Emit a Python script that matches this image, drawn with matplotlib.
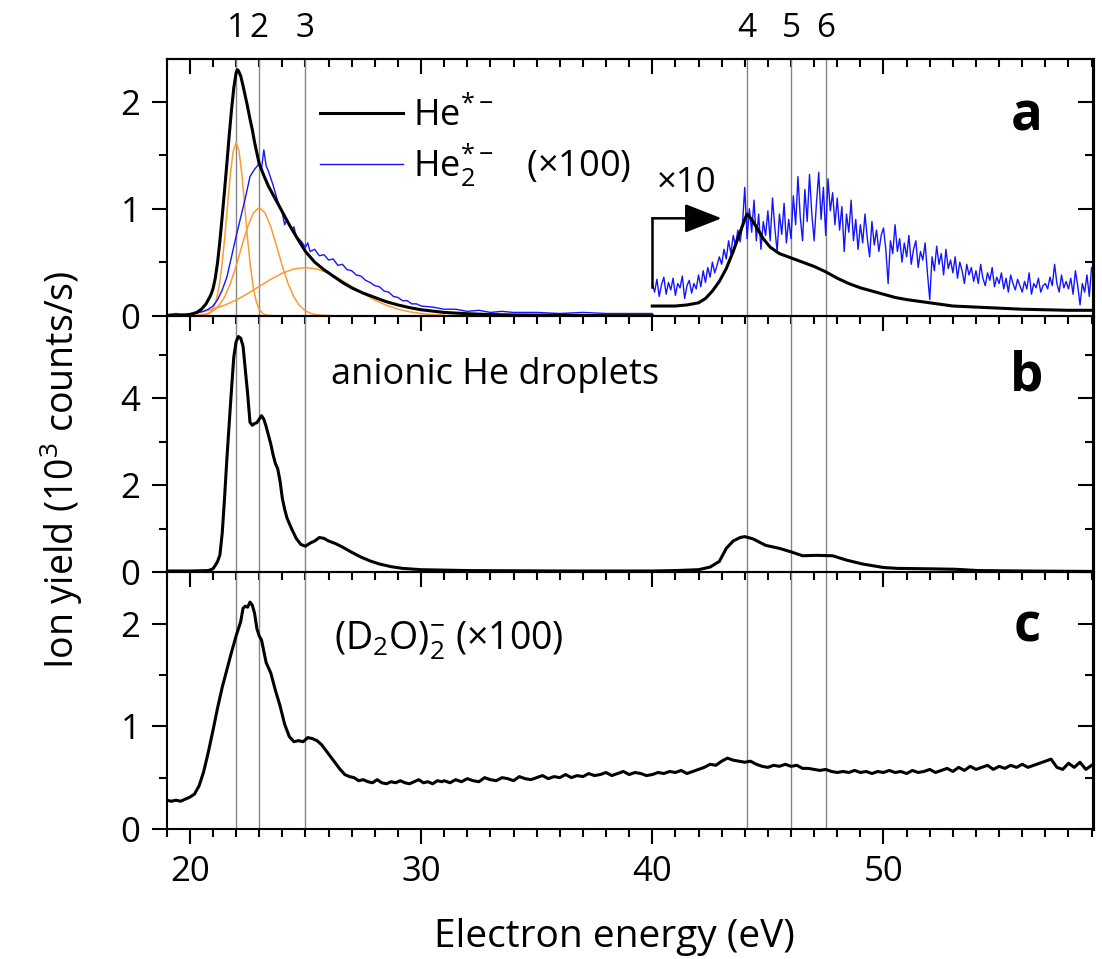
import matplotlib
matplotlib.use('Agg')
import matplotlib.pyplot as plt
from matplotlib.ticker import MultipleLocator

plt.rcParams['font.family'] = ['Open Sans', 'DejaVu Sans']
plt.rcParams['mathtext.fontset'] = 'custom'
plt.rcParams['mathtext.rm'] = 'Open Sans'
plt.rcParams['mathtext.it'] = 'Open Sans:italic'
plt.rcParams['mathtext.bf'] = 'Open Sans:bold'
plt.rcParams['mathtext.default'] = 'regular'

# --- peak positions (eV) ---
peak_energies = [22.0, 23.0, 25.0, 44.1, 46.0, 47.5]
peak_labels = ['1', '2', '3', '4', '5', '6']

# --- panel a: He*- (black) below 40 eV ---
he_e = [19.0, 19.5, 20.0, 20.3, 20.5, 20.7, 20.9, 21.0, 21.1, 21.2, 21.3, 21.4, 21.5,
        21.6, 21.7, 21.8, 21.9, 22.0, 22.05, 22.1, 22.2, 22.3, 22.4, 22.5, 22.6, 22.7,
        22.8, 22.9, 23.0, 23.2, 23.4, 23.6, 23.8, 24.0, 24.3, 24.6, 25.0, 25.4, 25.8,
        26.2, 26.6, 27.0, 27.5, 28.0, 28.5, 29.0, 29.5, 30.0, 31.0, 32.0, 33.0, 34.0,
        36.0, 38.0, 40.0]
he_y = [0.0, 0.0, 0.01, 0.03, 0.06, 0.11, 0.19, 0.25, 0.35, 0.5, 0.7, 0.93, 1.17,
        1.42, 1.68, 1.92, 2.13, 2.27, 2.30, 2.29, 2.24, 2.15, 2.05, 1.95, 1.84, 1.74,
        1.62, 1.52, 1.42, 1.31, 1.21, 1.13, 1.05, 0.97, 0.85, 0.74, 0.6, 0.5, 0.43,
        0.37, 0.31, 0.26, 0.21, 0.17, 0.13, 0.1, 0.075, 0.055, 0.03, 0.018, 0.01, 0.006,
        0.003, 0.0, 0.0]

# --- panel a: He2*- (x100, blue) below 40 eV ---
he2_e = [19.0, 19.4, 19.8, 20.2, 20.4, 20.6, 20.8, 21.0, 21.2, 21.4, 21.6, 21.8, 22.0,
         22.2, 22.4, 22.6, 22.8, 23.0, 23.1, 23.2, 23.3, 23.4, 23.6, 23.8, 24.0, 24.1,
         24.2, 24.4, 24.5, 24.6, 24.8, 25.0, 25.1, 25.2, 25.4, 25.6, 25.8, 26.0, 26.2,
         26.4, 26.6, 26.8, 27.0, 27.2, 27.4, 27.6, 27.8, 28.0, 28.2, 28.4, 28.6, 28.8,
         29.0, 29.2, 29.4, 29.6, 29.8, 30.0, 30.5, 31.0, 31.5, 32.0, 32.5, 33.0, 33.5,
         34.0, 35.0, 36.0, 37.0, 38.0, 39.0, 40.0]
he2_y = [0.01, 0.02, 0.01, 0.02, 0.03, 0.04, 0.06, 0.09, 0.15, 0.24, 0.36, 0.55, 0.74,
         0.92, 1.1, 1.3, 1.37, 1.42, 1.38, 1.55, 1.4, 1.35, 1.22, 1.07, 0.96, 0.85,
         0.9, 0.8, 0.83, 0.74, 0.7, 0.64, 0.68, 0.6, 0.62, 0.56, 0.57, 0.52, 0.53,
         0.47, 0.48, 0.43, 0.42, 0.38, 0.37, 0.33, 0.31, 0.28, 0.27, 0.23, 0.22, 0.18,
         0.17, 0.14, 0.14, 0.11, 0.11, 0.09, 0.08, 0.06, 0.06, 0.04, 0.05, 0.03, 0.04,
         0.03, 0.03, 0.02, 0.03, 0.02, 0.02, 0.02]

# --- panel a: fitted components (orange) ---
fit1_e = [20.5, 20.625, 20.75, 20.875, 21.0, 21.125, 21.25, 21.375, 21.5, 21.625, 21.75,
          21.875, 22.0, 22.125, 22.25, 22.375, 22.5, 22.625, 22.75, 22.875, 23.0, 23.125,
          23.25, 23.375, 23.5]
fit1_y = [0.001, 0.003, 0.01, 0.025, 0.06, 0.131, 0.255, 0.449, 0.71, 1.021, 1.32,
          1.539, 1.62, 1.539, 1.32, 1.021, 0.71, 0.449, 0.255, 0.131, 0.06, 0.025,
          0.01, 0.003, 0.001]
fit2_e = [20.0, 20.25, 20.5, 20.75, 21.0, 21.25, 21.5, 21.75, 22.0, 22.25, 22.5, 22.75,
          23.0, 23.25, 23.5, 23.75, 24.0, 24.25, 24.5, 24.75, 25.0, 25.25, 25.5, 25.75,
          26.0]
fit2_y = [0.001, 0.003, 0.008, 0.019, 0.044, 0.092, 0.174, 0.298, 0.463, 0.651, 0.831,
          0.962, 1.01, 0.962, 0.831, 0.651, 0.463, 0.298, 0.174, 0.092, 0.044, 0.019,
          0.008, 0.003, 0.001]
fit3_e = [19.0, 19.5, 20.0, 20.5, 21.0, 21.5, 22.0, 22.5, 23.0, 23.5, 24.0, 24.5, 25.0,
          25.5, 26.0, 26.5, 27.0, 27.5, 28.0, 28.5, 29.0, 29.5, 30.0, 30.5, 31.0]
fit3_y = [0.005, 0.01, 0.02, 0.036, 0.061, 0.097, 0.146, 0.206, 0.273, 0.34, 0.397,
          0.436, 0.45, 0.436, 0.397, 0.34, 0.273, 0.206, 0.146, 0.097, 0.061, 0.036,
          0.02, 0.01, 0.005]

# --- panel a: x10 region above 40 eV ---
he_x10_e = [40.0, 40.5, 41.0, 41.5, 42.0, 42.3, 42.6, 42.9, 43.2, 43.5, 43.8, 44.0, 44.1,
            44.3, 44.5, 44.8, 45.1, 45.5, 46.0, 46.5, 47.0, 47.5, 48.0, 48.5, 49.0, 49.5,
            50.0, 50.5, 51.0, 52.0, 53.0, 54.0, 55.0, 56.0, 57.0, 58.0, 59.0]
he_x10_y = [0.09, 0.09, 0.09, 0.1, 0.12, 0.16, 0.23, 0.32, 0.44, 0.6, 0.78, 0.9, 0.95,
            0.9, 0.83, 0.72, 0.64, 0.58, 0.54, 0.5, 0.46, 0.41, 0.35, 0.3, 0.26, 0.23,
            0.2, 0.17, 0.15, 0.12, 0.09, 0.08, 0.07, 0.06, 0.055, 0.05, 0.05]
he2_x10_e = [round(40.0 + 0.1 * i, 1) for i in range(191)]
he2_x10_y = [0.3, 0.22, 0.34, 0.18, 0.29, 0.36, 0.2, 0.31, 0.24, 0.35,
             0.19, 0.3, 0.26, 0.37, 0.16, 0.28, 0.33, 0.21, 0.3, 0.25,
             0.38, 0.27, 0.42, 0.31, 0.45, 0.36, 0.5, 0.4, 0.47, 0.55,
             0.48, 0.62, 0.53, 0.7, 0.58, 0.75, 0.66, 0.8, 0.69, 0.85,
             1.2, 0.72, 1.0, 0.78, 1.08, 0.7, 0.95, 0.62, 0.88, 0.75,
             0.98, 0.7, 1.1, 0.82, 0.6, 0.95, 0.76, 1.05, 0.68, 0.9,
             0.72, 1.12, 0.85, 1.3, 0.92, 0.7, 1.18, 0.88, 1.32, 0.95,
             0.7, 1.05, 1.34, 0.9, 1.2, 0.75, 1.28, 0.98, 1.15, 0.85,
             1.1, 0.8, 1.02, 0.6, 0.95, 0.78, 1.08, 0.7, 0.9, 0.62,
             0.85, 0.68, 0.95, 0.72, 0.55, 0.88, 0.66, 0.8, 0.6, 0.75,
             0.82, 0.62, 0.3, 0.7, 0.58, 0.85, 0.6, 0.72, 0.5, 0.68,
             0.55, 0.75, 0.48, 0.62, 0.7, 0.45, 0.6, 0.52, 0.68, 0.4,
             0.15, 0.55, 0.42, 0.65, 0.48, 0.58, 0.38, 0.62, 0.44, 0.52,
             0.4, 0.55, 0.35, 0.5, 0.42, 0.3, 0.48, 0.38, 0.45, 0.32,
             0.42, 0.3, 0.48, 0.35, 0.28, 0.4, 0.33, 0.45, 0.27, 0.36,
             0.3, 0.4, 0.25, 0.35, 0.22, 0.38, 0.3, 0.24, 0.34, 0.28,
             0.22, 0.32, 0.25, 0.4, 0.2, 0.3, 0.26, 0.35, 0.22, 0.28,
             0.3, 0.25, 0.36, 0.28, 0.48, 0.3, 0.22, 0.38, 0.26, 0.32,
             0.25, 0.35, 0.2, 0.42, 0.28, 0.1, 0.3, 0.22, 0.38, 0.18,
             0.45]

# --- panel b: anionic He droplets ---
drop_e = [19.0, 20.0, 20.8, 21.0, 21.1, 21.2, 21.3, 21.4, 21.5, 21.6, 21.7, 21.8, 21.9,
          22.0, 22.1, 22.2, 22.3, 22.4, 22.5, 22.6, 22.7, 22.8, 22.9, 23.0, 23.1, 23.2,
          23.3, 23.4, 23.5, 23.6, 23.7, 23.8, 23.9, 24.0, 24.1, 24.2, 24.4, 24.6, 24.8,
          25.0, 25.2, 25.4, 25.6, 25.8, 26.0, 26.3, 26.6, 27.0, 27.4, 27.8, 28.2, 28.7,
          29.2, 30.0, 32.0, 36.0, 40.0, 41.0, 42.0, 42.5, 42.9, 43.2, 43.5, 43.8, 44.0,
          44.35, 44.9, 45.5, 46.0, 46.5, 47.1, 47.8, 48.4, 49.1, 50.0, 50.6, 52.0, 53.1,
          54.1, 56.0, 59.0]
drop_y = [0.03, 0.03, 0.04, 0.08, 0.16, 0.25, 0.4, 0.9, 1.7, 2.6, 3.4, 4.2, 4.95,
          5.3, 5.42, 5.38, 5.2, 4.65, 4.1, 3.45, 3.38, 3.42, 3.44, 3.52, 3.6, 3.52,
          3.35, 3.15, 2.95, 2.7, 2.5, 2.38, 2.1, 1.7, 1.45, 1.25, 1.0, 0.78, 0.64,
          0.6, 0.67, 0.72, 0.8, 0.78, 0.72, 0.66, 0.58, 0.46, 0.35, 0.26, 0.19, 0.13,
          0.09, 0.06, 0.04, 0.03, 0.03, 0.04, 0.06, 0.12, 0.25, 0.55, 0.72, 0.8, 0.82,
          0.77, 0.62, 0.55, 0.47, 0.38, 0.39, 0.38, 0.28, 0.19, 0.11, 0.09, 0.08, 0.07,
          0.04, 0.03, 0.02]

# --- panel c: (D2O)2- (x100) ---
d2o_e = [19.0, 19.2, 19.4, 19.6, 19.8, 20.0, 20.2, 20.4, 20.6, 20.8, 21.0, 21.2, 21.4,
         21.6, 21.8, 22.0, 22.2, 22.3, 22.4, 22.5, 22.6, 22.7, 22.8, 22.9, 23.0, 23.1,
         23.3, 23.5, 23.7, 23.9, 24.1, 24.3, 24.5, 24.7, 24.9, 25.1, 25.3, 25.5, 25.7,
         25.9, 26.1, 26.3, 26.5, 26.7, 26.9, 27.1, 27.3, 27.5, 27.7, 27.9, 28.1, 28.3,
         28.5, 28.7, 28.9, 29.1, 29.3, 29.5, 29.7, 29.9, 30.1, 30.3, 30.5, 30.7, 30.9]
d2o_e += [round(31.0 + 0.25 * i, 2) for i in range(113)]
d2o_y = [0.28, 0.27, 0.28, 0.27, 0.29, 0.31, 0.34, 0.42, 0.56, 0.75, 0.96, 1.18, 1.38,
         1.55, 1.72, 1.88, 2.02, 2.15, 2.17, 2.16, 2.21, 2.18, 2.1, 1.95, 1.88, 1.84,
         1.62, 1.52, 1.35, 1.2, 1.02, 0.9, 0.85, 0.86, 0.85, 0.89, 0.88, 0.86, 0.82,
         0.76, 0.7, 0.64, 0.58, 0.53, 0.51, 0.5, 0.47, 0.48, 0.46, 0.45, 0.48, 0.45,
         0.44, 0.46, 0.45, 0.47, 0.45, 0.44, 0.46, 0.48, 0.45, 0.46, 0.44, 0.47, 0.46,
         # 31.0 - 39.0
         0.47, 0.45, 0.48, 0.46, 0.49, 0.47, 0.46, 0.5, 0.48, 0.47, 0.5, 0.49, 0.47,
         0.51, 0.49, 0.48, 0.5, 0.52, 0.49, 0.51, 0.5, 0.53, 0.5, 0.52, 0.51, 0.54,
         0.52, 0.53, 0.55, 0.52, 0.54, 0.56, 0.53,
         # 39.25 - 59.0
         0.55, 0.54, 0.52, 0.53, 0.55, 0.54, 0.56, 0.55, 0.57, 0.54, 0.56, 0.58, 0.6,
         0.63, 0.62, 0.66, 0.69, 0.67, 0.66, 0.65, 0.66, 0.63, 0.61, 0.6, 0.62, 0.61,
         0.63, 0.61, 0.62, 0.59, 0.59, 0.58, 0.57, 0.58, 0.56, 0.55, 0.56, 0.55, 0.57,
         0.55, 0.56, 0.54, 0.56, 0.55, 0.57, 0.55, 0.56, 0.54, 0.57, 0.55, 0.56, 0.58,
         0.55, 0.57, 0.59, 0.56, 0.6, 0.57, 0.61, 0.58, 0.6, 0.62, 0.58, 0.61, 0.59,
         0.62, 0.6, 0.63, 0.6, 0.62, 0.64, 0.66, 0.68, 0.6, 0.58, 0.64, 0.6, 0.65,
         0.58, 0.62]

ylims = [2.4, 5.9, 2.5]
y_major = [1, 2, 1]
y_minor = [0.5, 1, 0.5]
panel_letters = ['a', 'b', 'c']
letter_y = [1.73, 4.17, 1.83]

# arrow marking the x10 part of panel a
arrow_x0, arrow_x1 = 40.0, 43.0
arrow_y0, arrow_y1 = 0.27, 0.91

fig, axes = plt.subplots(3, 1, sharex=True, figsize=(11.02, 9.59), dpi=100,
                         gridspec_kw=dict(left=0.1513, right=0.9916, bottom=0.1356,
                                          top=0.9385, hspace=0))

black = '#000000'
blue = '#1414ff'
orange = '#ff9a30'
grey = '#858585'

for i, ax in enumerate(axes):
    ax.set_facecolor('none')   # so the outward ticks of the panel above stay visible
    ax.set_xlim(19, 59.05)
    ax.set_ylim(0, ylims[i])
    ax.xaxis.set_major_locator(MultipleLocator(10))
    ax.xaxis.set_minor_locator(MultipleLocator(1))
    ax.yaxis.set_major_locator(MultipleLocator(y_major[i]))
    ax.yaxis.set_minor_locator(MultipleLocator(y_minor[i]))
    ax.tick_params(which='both', direction='out', width=1.5, labelsize=25,
                   top=False, right=False)
    ax.tick_params(which='major', length=11, pad=8)
    ax.tick_params(which='minor', length=5.5)
    for s in ax.spines.values():
        s.set_linewidth(1.5)
    ax.spines['right'].set_linewidth(2.2)
    # right side ticks pointing inward
    sec = ax.secondary_yaxis('right')
    sec.yaxis.set_major_locator(MultipleLocator(y_major[i]))
    sec.yaxis.set_minor_locator(MultipleLocator(y_minor[i]))
    sec.tick_params(which='both', direction='in', width=1.5, labelright=False)
    sec.tick_params(which='major', length=11)
    sec.tick_params(which='minor', length=5.5)
    sec.spines['right'].set_linewidth(2.2)
    for e in peak_energies:
        ax.axvline(e, color=grey, lw=1.0, zorder=1)
    ax.text(56.2, letter_y[i], panel_letters[i], fontsize=38, fontweight='bold',
            ha='center', va='baseline')

# top ticks of panel a pointing inward
top = axes[0].secondary_xaxis('top')
top.xaxis.set_major_locator(MultipleLocator(10))
top.xaxis.set_minor_locator(MultipleLocator(1))
top.tick_params(which='both', direction='in', width=1.5, labeltop=False)
top.tick_params(which='major', length=11)
top.tick_params(which='minor', length=5.5)
top.spines['top'].set_linewidth(1.5)

for e, lab in zip(peak_energies, peak_labels):
    axes[0].text(e, 1.087, lab, transform=axes[0].get_xaxis_transform(),
                 ha='center', va='baseline', fontsize=24)

# panel a
ax = axes[0]
for fe, fy in [(fit1_e, fit1_y), (fit2_e, fit2_y), (fit3_e, fit3_y)]:
    ax.plot(fe, fy, color=orange, lw=1.1, zorder=2)
l2, = ax.plot(he2_e, he2_y, color=blue, lw=1.0, zorder=3)
ax.plot(he2_x10_e, he2_x10_y, color=blue, lw=1.0, zorder=3)
l1, = ax.plot(he_e, he_y, color=black, lw=2.2, zorder=4)
ax.plot(he_x10_e, he_x10_y, color=black, lw=2.2, zorder=4)
ax.plot([arrow_x0, arrow_x0], [arrow_y0, arrow_y1], color=black, lw=1.8, zorder=5)
ax.annotate('', xy=(arrow_x1, arrow_y1), xytext=(arrow_x0, arrow_y1),
            arrowprops=dict(arrowstyle='-|>,head_length=1.15,head_width=0.45',
                            color=black, lw=1.8, mutation_scale=20,
                            shrinkA=0, shrinkB=0), zorder=5)
ax.text(40.2, 1.16, '×10', fontsize=25, ha='left', va='baseline')
ax.legend([l1, l2], [r'He$^{*-}$', r'He$_2^{*-}$   (×100)'], loc='upper left',
          bbox_to_anchor=(0.165, 0.85), frameon=False, fontsize=26,
          handlelength=2.3, handletextpad=0.3, labelspacing=0.2,
          borderpad=0, borderaxespad=0)

# panel b
ax = axes[1]
ax.plot(drop_e, drop_y, color=black, lw=2.2, zorder=4)
ax.text(26.1, 4.33, 'anionic He droplets', fontsize=26, ha='left', va='baseline')

# panel c
ax = axes[2]
ax.plot(d2o_e, d2o_y, color=black, lw=2.2, zorder=4)
ax.text(26.25, 1.75, r'(D$_2$O)$_2^{-}$ (×100)', fontsize=27, ha='left', va='baseline')

fig.text(0.558, 0.012, 'Electron energy (eV)', fontsize=28, ha='center', va='baseline')
fig.text(0.056, 0.51, r'Ion yield (10$^3$ counts/s)', fontsize=27, rotation=90,
         ha='center', va='center')

fig.savefig('out.png', dpi=100)
